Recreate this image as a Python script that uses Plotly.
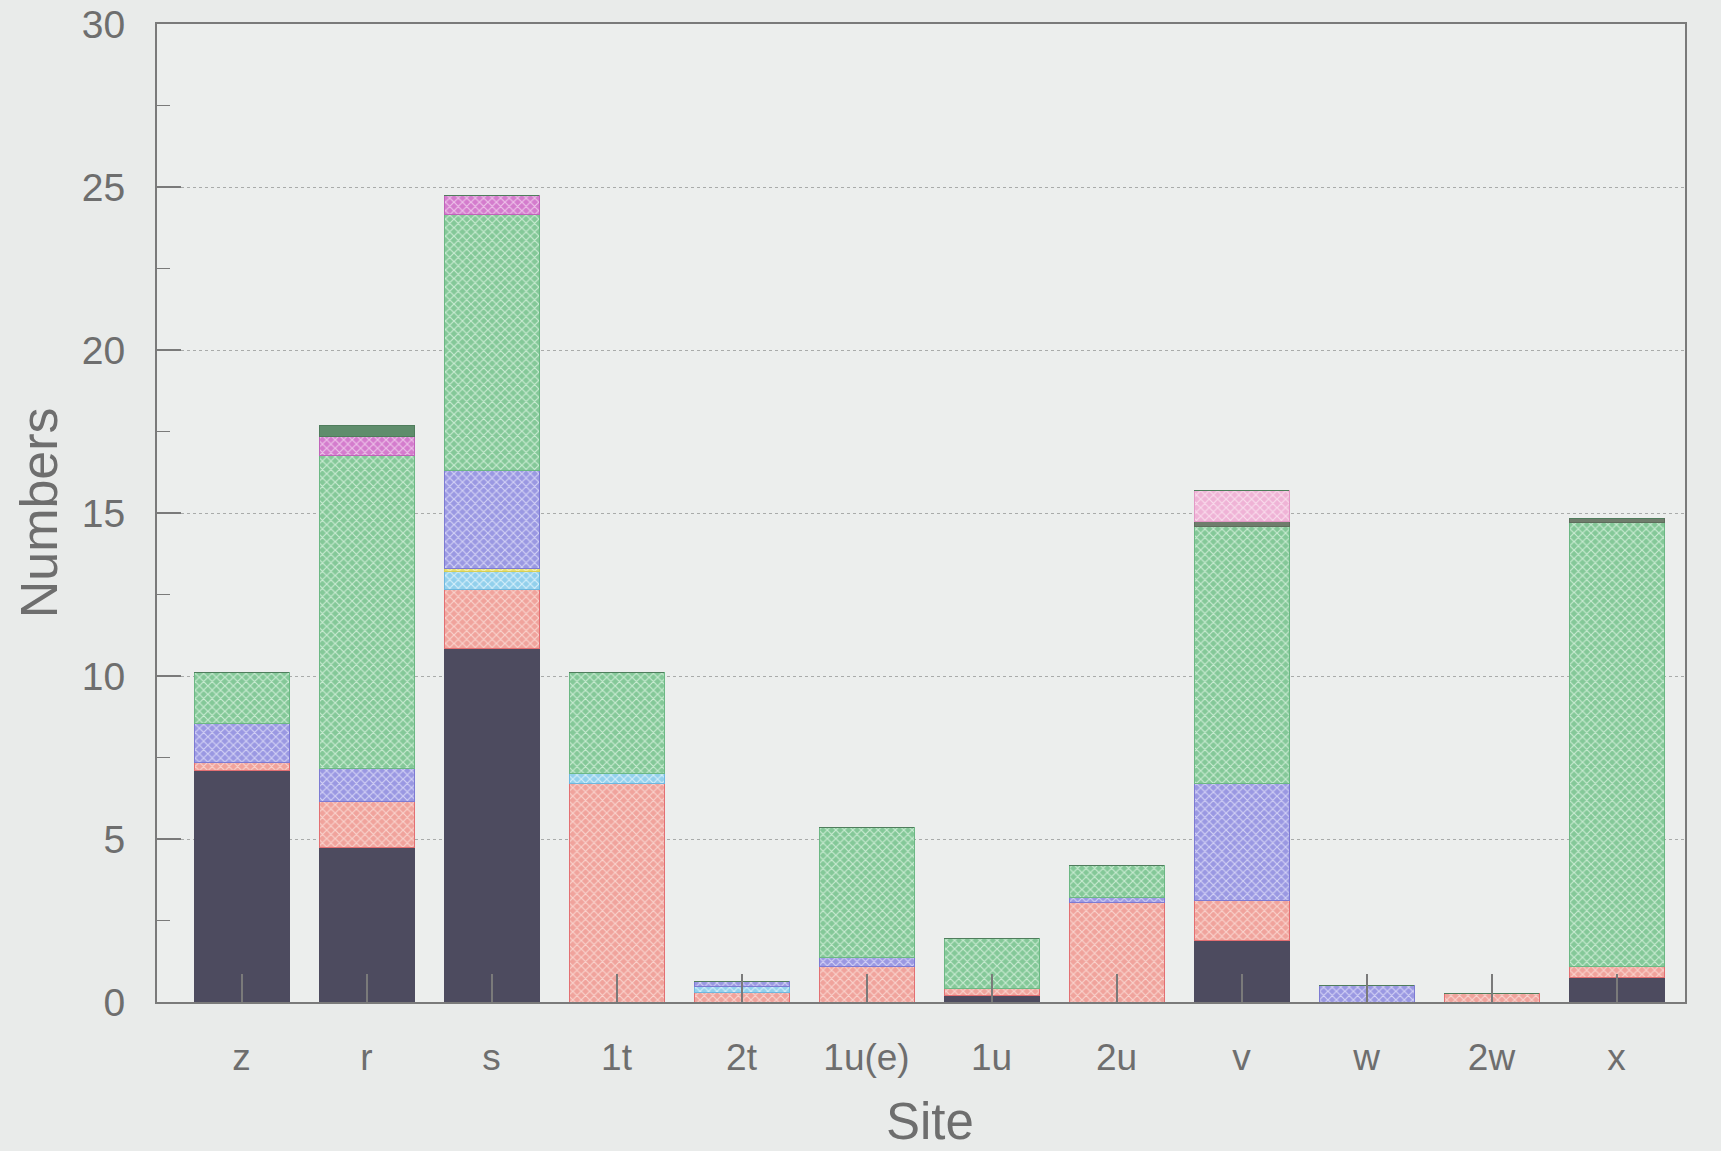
import plotly.graph_objects as go

# Sampling sites along the x axis
sites = ["z", "r", "s", "1t", "2t", "1u(e)", "1u", "2u", "v", "w", "2w", "x"]

# Stacked counts per group, bottom to top
group_black = [7.1, 4.75, 10.85, 0, 0, 0, 0.2, 0, 1.9, 0, 0, 0.75]
group_salmon = [0.25, 1.4, 1.8, 6.7, 0.3, 1.1, 0.2, 3.05, 1.2, 0, 0.25, 0.35]
group_cyan = [0, 0, 0.55, 0.3, 0.17, 0, 0, 0, 0, 0, 0, 0]
group_yellow = [0, 0, 0.1, 0, 0, 0, 0, 0, 0, 0, 0, 0]
group_purple = [1.2, 1.0, 3.0, 0, 0.17, 0.25, 0, 0.15, 3.6, 0.5, 0, 0]
group_green = [1.55, 9.6, 7.85, 3.1, 0, 4.0, 1.55, 1.0, 7.9, 0, 0, 13.6]
group_olive = [0, 0, 0, 0, 0, 0, 0, 0, 0.15, 0, 0, 0.12]
group_magenta = [0, 0.6, 0.6, 0, 0, 0, 0, 0, 0, 0, 0, 0]
group_pink = [0, 0, 0, 0, 0, 0, 0, 0, 0.95, 0, 0, 0]
group_darkgreen = [0, 0.32, 0, 0, 0, 0, 0, 0, 0, 0, 0, 0]

y_ticks = [0, 5, 10, 15, 20, 25, 30]

# (values, fill, outline, hatch colour or None)
layers = [
    ("Group 1", group_black, "#4d4b5f", "#4d4b5f", None),
    ("Group 2", group_salmon, "#f0a39c", "#e36f72", "#f9d3cd"),
    ("Group 3", group_cyan, "#92d0ec", "#6fb7de", "#d4eefa"),
    ("Group 4", group_yellow, "#e6df6e", "#d8cf55", "#f6f1b8"),
    ("Group 5", group_purple, "#9a98e2", "#7d7bd3", "#d2d1f5"),
    ("Group 6", group_green, "#84c898", "#6cb884", "#c9ebd2"),
    ("Group 7", group_olive, "#6f7d6c", "#5f6d5c", None),
    ("Group 8", group_magenta, "#d47ccd", "#c064ba", "#edc2e9"),
    ("Group 9", group_pink, "#efb3d6", "#e39ac6", "#f9dcec"),
    ("Group 10", group_darkgreen, "#5f8d6c", "#4f7d5c", None),
]

x_pos = list(range(len(sites)))

fig = go.Figure()
for name, vals, fill, outline, hatch in layers:
    marker = dict(color=fill, line=dict(color=outline, width=1))
    if hatch is not None:
        marker["pattern"] = dict(
            shape="x", size=6, solidity=0.35,
            fgcolor=hatch, bgcolor=fill, fillmode="replace",
        )
    fig.add_trace(go.Bar(
        x=x_pos, y=vals, name=name, width=0.76,
        marker=marker, showlegend=False,
    ))

axis_grey = "#7a7a7a"
label_grey = "#6e6e6e"
font_family = "Liberation Sans, Arial, sans-serif"

fig.update_layout(
    barmode="stack",
    width=1721, height=1151,
    margin=dict(l=157, r=36, t=24, b=149, autoexpand=False),
    paper_bgcolor="#e9ebea",
    plot_bgcolor="#eceeed",
    font=dict(family=font_family, color=label_grey),
    xaxis=dict(
        automargin=False,
        range=[-0.676, 11.548],
        tickmode="array", tickvals=x_pos, ticktext=sites,
        tickfont=dict(size=37, color=label_grey),
        ticks="inside", ticklen=28, tickwidth=1.5, tickcolor=axis_grey,
        ticklabelstandoff=22,
        showline=True, linecolor=axis_grey, linewidth=2, mirror=True,
        showgrid=False, zeroline=False,
    ),
    yaxis=dict(
        automargin=False,
        range=[0, 30],
        tickmode="array", tickvals=y_ticks,
        tickfont=dict(size=39, color=label_grey),
        ticks="inside", ticklen=24, tickwidth=1.5, tickcolor=axis_grey,
        ticklabelstandoff=22,
        minor=dict(ticks="inside", ticklen=13, dtick=2.5, tick0=0,
                   tickcolor=axis_grey, tickwidth=1, showgrid=False),
        showline=True, linecolor=axis_grey, linewidth=2, mirror=True,
        showgrid=True, gridcolor="#a9abaa", griddash="dot", gridwidth=1,
        zeroline=False,
    ),
    annotations=[
        dict(text="Site", xref="paper", yref="paper", x=0.5056, y=-0.122,
             xanchor="center", yanchor="middle", showarrow=False,
             font=dict(size=51, color=label_grey, family=font_family)),
        dict(text="Numbers", xref="paper", yref="paper", x=-0.077, y=0.50,
             xanchor="center", yanchor="middle", showarrow=False, textangle=-90,
             font=dict(size=52, color=label_grey, family=font_family)),
    ],
)

fig.write_html("out.html")
